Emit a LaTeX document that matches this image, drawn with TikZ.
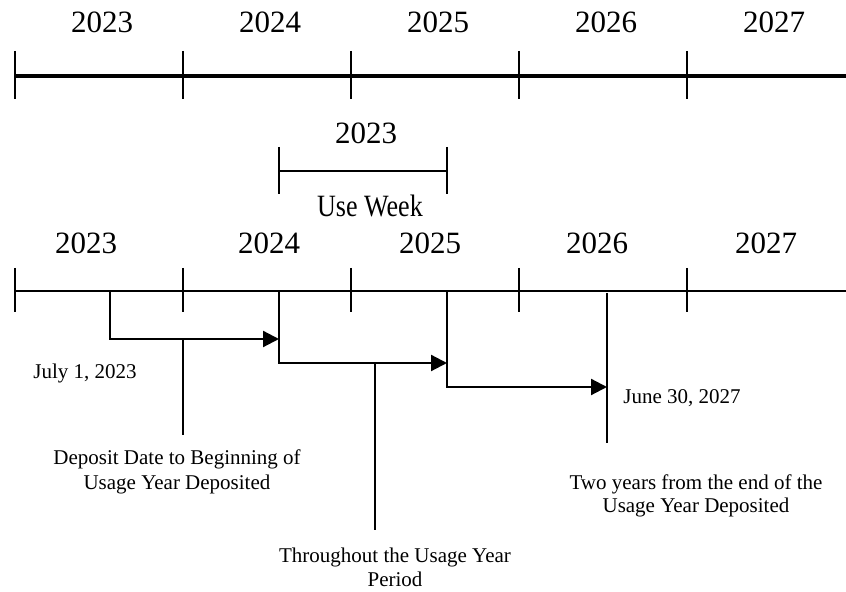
\documentclass[tikz,border=0pt]{standalone}
\usepackage{fontspec}
\setmainfont{Liberation Serif}
\usetikzlibrary{arrows.meta}

\begin{document}
\begin{tikzpicture}[x=0.5pt, y=-0.5pt,
  year/.style={font=\fontsize{15.5}{18}\selectfont, anchor=base, inner sep=0pt},
  note/.style={font=\fontsize{10.5}{11.5}\selectfont, anchor=base, align=center, inner sep=0pt},
  tick/.style={line width=1pt},
  lead/.style={line width=1pt},
  flow/.style={line width=1.1pt, -{Triangle[length=8pt,width=8pt]}}]
  \useasboundingbox (0,0) rectangle (846,592);

  % calendar years, thick axis
  \draw[line width=2.3pt] (15,76) -- (846,76);
  \foreach \x/\yr in {15/2023,183/2024,351/2025,519/2026,687/2027} {
    \draw[tick] (\x,51) -- (\x,99);
    \node[year] (top\yr) at (\x+87,33) {\yr};
  }

  % use week bracket
  \coordinate (wkA) at (279,171);
  \coordinate (wkB) at (447,171);
  \draw[tick] (wkA) -- (wkB);
  \draw[tick] (279,147) -- (279,194);
  \draw[tick] (447,147) -- (447,194);
  \node[year] (wkyear) at (366,144) {2023};
  \node[year] (wklabel) at (370,217) {\scalebox{0.84}[1]{Use Week}};

  % usage years, thin axis
  \draw[line width=1pt] (15,291) -- (846,291);
  \foreach \x/\lx/\yr in {15/86/2023,183/269/2024,351/430/2025,519/597/2026,687/766/2027} {
    \draw[tick] (\x,268) -- (\x,312);
    \node[year] (low\yr) at (\lx,254) {\yr};
  }

  % deposit -> begin -> end -> expiry
  \coordinate (dep) at (110,291);
  \coordinate (beg) at (279,291);
  \coordinate (fin) at (447,291);
  \coordinate (exp) at (607,293);
  \coordinate (depB) at (279,339);
  \coordinate (begB) at (447,363);
  \coordinate (finB) at (607,387);
  \coordinate (expB) at (607,443);
  \draw[flow] (dep) |- (depB);
  \draw[flow] (beg) |- (begB);
  \draw[flow] (fin) |- (finB);
  \draw[line width=0.7pt] (exp) -- (expB);

  % leaders to the notes
  \coordinate (depL) at (183,339);
  \coordinate (depLB) at (183,435);
  \coordinate (useL) at (375,363);
  \coordinate (useLB) at (375,530);
  \draw[lead] (depL) -- (depLB);
  \draw[lead] (useL) -- (useLB);

  % notes (base = last line)
  \node[note] (july) at (85,379) {July 1, 2023};
  \node[note] (june) at (682,404) {June 30, 2027};
  \node[note, font=\fontsize{10.5}{12.5}\selectfont] (depnote) at (177,490) {Deposit Date to Beginning of\\Usage Year Deposited};
  \node[note, font=\fontsize{10.5}{12}\selectfont] (usenote) at (395,587) {Throughout the Usage Year\\Period};
  \node[note] (twonote) at (696,513) {Two years from the end of the\\Usage Year Deposited};
\end{tikzpicture}
\end{document}
